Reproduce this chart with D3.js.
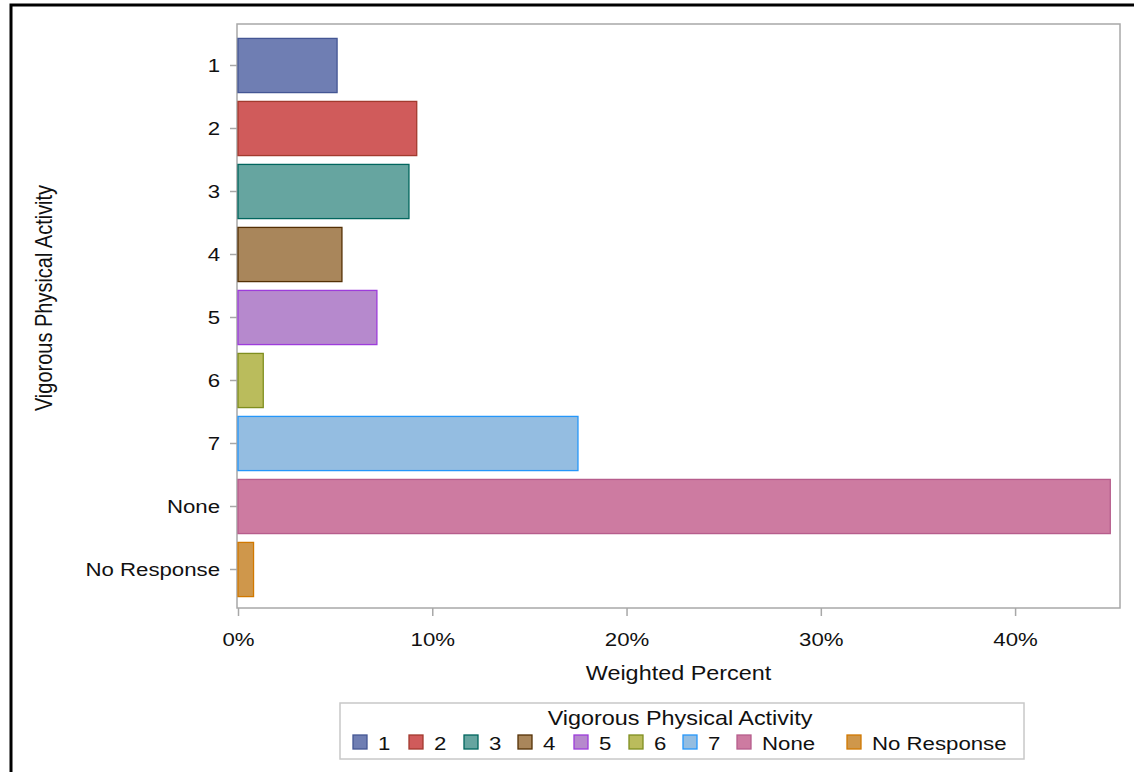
<!DOCTYPE html>
<html>
<head>
<meta charset="utf-8">
<script src="https://cdn.jsdelivr.net/npm/d3@7"></script>
<style>
  body { margin: 0; background: #fff; }
  svg { display: block; font-family: "Liberation Sans", Arial, sans-serif; }
  .axis path, .axis line { stroke: #a8a8a8; stroke-width: 1.5; }
  .axis text { fill: #111; font-size: 19px; }
</style>
</head>
<body>
<svg id="chart"></svg>
<script>
// categories and weighted percents
var categories = ["1", "2", "3", "4", "5", "6", "7", "None", "No Response"];
var percents   = [5.1, 9.2, 8.8, 5.35, 7.15, 1.3, 17.5, 44.9, 0.8];
var xTicks     = [0, 10, 20, 30, 40];

var fills   = ["#6f7eb3", "#d05b5b", "#66a5a0", "#a9865b", "#b689cd", "#babc5c", "#94bde1", "#cd7ba1", "#cf974b"];
var strokes = ["#445694", "#a23a2e", "#01665e", "#543005", "#9d3cdb", "#7f8e1f", "#2597fa", "#b65d8c", "#d17800"];

var width = 1134, height = 772;
var stretch = 1.17;   // the text in the picture is a bit wider than tall

var svg = d3.select("#chart")
  .attr("width", width)
  .attr("height", height);

// title sits above the frame, only the descenders peek in
svg.append("text")
  .attr("transform", "translate(-6,-7) scale(" + stretch + ",1)")
  .style("font-size", "32px")
  .style("font-weight", "bold")
  .text("Weighted Percentage by Vigorous Physical Activity");

// outer frame
svg.append("rect")
  .attr("x", 11).attr("y", 5)
  .attr("width", width).attr("height", height)
  .attr("fill", "none")
  .attr("stroke", "#000")
  .attr("stroke-width", 3);

var plot = {left: 237, right: 1120, top: 24, bottom: 608};

var x = d3.scaleLinear()
  .domain([0, 45.4])
  .range([plot.left + 1, plot.right]);

var y = d3.scaleBand()
  .domain(categories)
  .range([34, 601])
  .paddingInner(0.14)
  .paddingOuter(0.07);

var color = d3.scaleOrdinal().domain(categories).range(fills);
var edge  = d3.scaleOrdinal().domain(categories).range(strokes);

// plot frame
svg.append("rect")
  .attr("x", plot.left).attr("y", plot.top)
  .attr("width", plot.right - plot.left)
  .attr("height", plot.bottom - plot.top)
  .attr("fill", "none")
  .attr("stroke", "#a8a8a8")
  .attr("stroke-width", 1.5);

var data = categories.map(function(c, i){ return {cat: c, pct: percents[i]}; });

svg.append("g")
  .selectAll("rect")
  .data(data)
  .enter().append("rect")
    .attr("x", x(0))
    .attr("y", function(d){ return y(d.cat); })
    .attr("width", function(d){ return x(d.pct) - x(0); })
    .attr("height", y.bandwidth())
    .attr("fill", function(d){ return color(d.cat); })
    .attr("stroke", function(d){ return edge(d.cat); })
    .attr("stroke-width", 1.3);

var yAxis = d3.axisLeft(y).tickSize(7).tickPadding(0).tickSizeOuter(0);
svg.append("g")
  .attr("class", "axis y")
  .attr("transform", "translate(" + plot.left + ",0)")
  .call(yAxis)
  .call(function(g){
    g.select(".domain").remove();
    g.selectAll(".tick text")
      .attr("x", 0)
      .attr("transform", "translate(-17,0) scale(" + stretch + ",1)");
  });

var xAxis = d3.axisBottom(x)
  .tickValues(xTicks)
  .tickFormat(function(d){ return d + "%"; })
  .tickSize(8).tickPadding(17).tickSizeOuter(0);
svg.append("g")
  .attr("class", "axis x")
  .attr("transform", "translate(0," + plot.bottom + ")")
  .call(xAxis)
  .call(function(g){
    g.select(".domain").remove();
    g.selectAll(".tick text").attr("transform", "scale(" + stretch + ",1)");
  });

svg.append("text")
  .attr("transform", "translate(" + ((plot.left + plot.right) / 2) + ",680) scale(" + stretch + ",1)")
  .attr("text-anchor", "middle")
  .style("font-size", "20px")
  .style("fill", "#111")
  .text("Weighted Percent");

svg.append("text")
  .attr("transform", "translate(52,298) rotate(-90) scale(1," + stretch + ")")
  .attr("text-anchor", "middle")
  .style("font-size", "20px")
  .style("fill", "#111")
  .text("Vigorous Physical Activity");

// legend
var legend = svg.append("g");
legend.append("rect")
  .attr("x", 340).attr("y", 703)
  .attr("width", 684).attr("height", 56)
  .attr("fill", "#fff")
  .attr("stroke", "#c8c8c8")
  .attr("stroke-width", 1.5);

legend.append("text")
  .attr("transform", "translate(680,725) scale(" + stretch + ",1)")
  .attr("text-anchor", "middle")
  .style("font-size", "20px")
  .style("fill", "#111")
  .text("Vigorous Physical Activity");

var legendX = [353, 409, 464, 518, 574, 629, 683, 737, 847];
var item = legend.selectAll("g.item")
  .data(data)
  .enter().append("g")
    .attr("class", "item")
    .attr("transform", function(d, i){ return "translate(" + legendX[i] + ",735)"; });

item.append("rect")
  .attr("width", 14).attr("height", 14)
  .attr("fill", function(d){ return color(d.cat); })
  .attr("stroke", function(d){ return edge(d.cat); })
  .attr("stroke-width", 1.3);

item.append("text")
  .attr("transform", "translate(25,15) scale(" + stretch + ",1)")
  .style("font-size", "19px")
  .style("fill", "#111")
  .text(function(d){ return d.cat; });
</script>
</body>
</html>
